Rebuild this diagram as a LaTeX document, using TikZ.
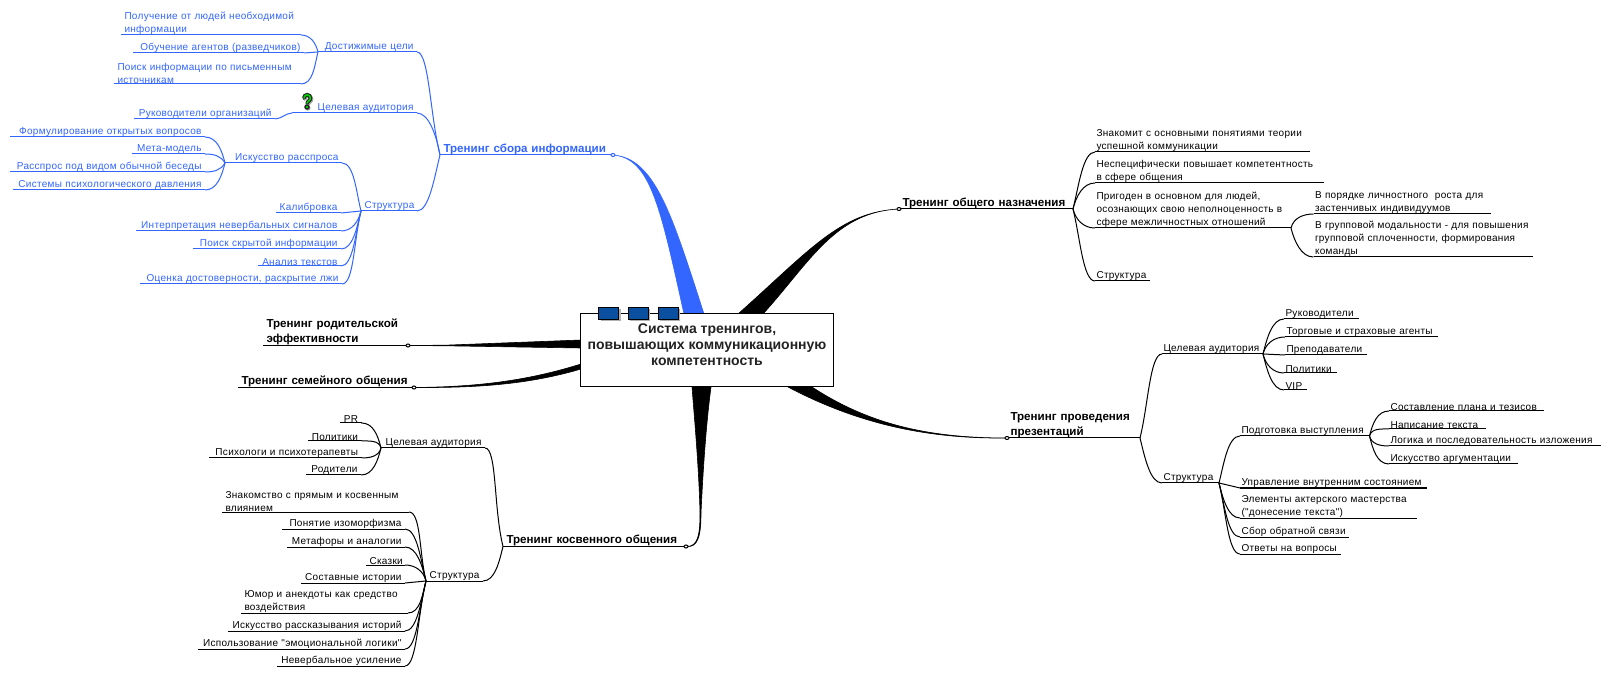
\documentclass[tikz,border=0pt]{standalone}
\usepackage{fontspec}
\usetikzlibrary{shadows,shapes.geometric}
\newfontfamily\leaffam[LetterSpace=3]{Liberation Sans}
\newfontfamily\mainfam{Liberation Sans}
\definecolor{tblue}{HTML}{3366FF}
\definecolor{tabblue}{HTML}{0B50A0}
\definecolor{rootink}{HTML}{222222}
\definecolor{qgreen}{HTML}{00CC00}
\tikzset{
  tw/.style={text width={#1*0.5pt-2*\pgfkeysvalueof{/pgf/inner xsep}}},
  topic/.style={anchor=south west, inner ysep=0pt, font=\leaffam\fontsize{5}{6.5}\selectfont,
    append after command={(\tikzlastnode.south west) edge (\tikzlastnode.south east)}},
  ltopic/.style={topic, inner xsep=1.5pt, align=right},
  ltext/.style={topic, inner xsep=1.5pt, align=left},
  rtopic/.style={topic, inner xsep=0.5pt, align=left},
  maintopic/.style={topic, inner xsep=1.5pt, align=left, font=\mainfam\bfseries\fontsize{5.8}{7.5}\selectfont},
  knob/.style={ellipse, draw, fill=white, inner sep=0pt, minimum width=2pt, minimum height=1.5pt},
  rootbox/.style={draw, fill=white, inner sep=0pt, minimum width=126.75pt, minimum height=36.5pt,
    align=center, text=rootink, font=\mainfam\bfseries\fontsize{7}{8}\selectfont},
  tabbox/.style={draw, fill=tabblue, inner sep=0pt, minimum width=10pt, minimum height=6pt,
    drop shadow={shadow xshift=1pt, shadow yshift=-1pt, fill=black!30, opacity=1}},
  wedge/.style={line width=0.3pt},
  lup/.style={out=0, in=104, out max distance=6pt},
  ldn/.style={out=0, in=256, out max distance=6pt},
  rup/.style={out=180, in=76, out max distance=6pt},
  rdn/.style={out=180, in=-76, out max distance=6pt},
  sbend/.style={out=0, in=180, looseness=0.8}
}
\begin{document}
\begin{tikzpicture}[x=0.5pt, y=-0.5pt, line width=0.5pt]
    \path[fill=white, use as bounding box] (0,0) rectangle (1608,679);

    % Information branch
    \begin{scope}[tblue]
    \node[maintopic, tw=172] (info) at (440,155) {Тренинг сбора информации};
    \node[ltopic, tw=98] (goals) at (318,52) {Достижимые цели};
    \node[ltopic, tw=124] (audience) at (292,113) {Целевая аудитория};
    \node[ltopic, tw=55] (struct) at (361,211) {Структура};
    \draw (goals.south east) to[lup] (info.south west);
    \draw (audience.south east) to[out=0, in=100, out max distance=6pt] (info.south west);
    \draw (struct.south east) to[ldn] (info.south west);

    \node[ltext, tw=179] (goal1) at (121,35) {Получение от людей необходимой\\информации};
    \node[ltopic, tw=170] (goal2) at (133,53) {Обучение агентов (разведчиков)};
    \node[ltext, tw=186] (goal3) at (114,84) {Поиск информации по письменным\\источникам};
    \draw (goal1.south east) to[lup] (goals.south west);
    \draw (goal2.south east) -- (goals.south west);
    \draw (goal3.south east) to[ldn] (goals.south west);

    \node[ltopic, tw=140] (aud1) at (134,119) {Руководители организаций};
    \draw (aud1.south east) to[sbend] (audience.south west);

    \node[ltopic, tw=116] (ask) at (225,163) {Искусство расспроса};
    \draw (ask.south east) to[lup] (struct.south west);
    \node[ltopic, tw=194] (ask1) at (10,137) {Формулирование открытых вопросов};
    \node[ltopic, tw=72] (ask2) at (132,154) {Мета-модель};
    \node[ltopic, tw=194] (ask3) at (10,172) {Расспрос под видом обычной беседы};
    \node[ltopic, tw=191] (ask4) at (13,190) {Системы психологического давления};
    \draw (ask1.south east) to[lup] (ask.south west);
    \draw (ask2.south east) to[out=0, in=120, out max distance=6pt] (ask.south west);
    \draw (ask3.south east) to[out=0, in=240, out max distance=6pt] (ask.south west);
    \draw (ask4.south east) to[ldn] (ask.south west);

    \node[ltopic, tw=64] (str1) at (276,213) {Калибровка};
    \node[ltopic, tw=204] (str2) at (136,231) {Интерпретация невербальных сигналов};
    \node[ltopic, tw=147] (str3) at (193,249) {Поиск скрытой информации};
    \node[ltopic, tw=82] (str4) at (258,266) {Анализ текстов};
    \node[ltopic, tw=201] (str5) at (140,284) {Оценка достоверности, раскрытие лжи};
    \draw (str1.south east) -- (struct.south west);
    \draw (str2.south east) to[ldn] (struct.south west);
    \draw (str3.south east) to[ldn] (struct.south west);
    \draw (str4.south east) to[ldn] (struct.south west);
    \draw (str5.south east) to[ldn] (struct.south west);

    % Tapered trunk to the central box
    \coordinate (infoa) at (684,314);
    \coordinate (infob) at (704,314);
    \filldraw[wedge] (info.south east) .. controls (650,158) and (660,205) .. (infoa)
        -- (infob) .. controls (672,215) and (655,158) .. (info.south east);
    \node[knob] (infok) at (info.south east) {};
    \end{scope}

    % Question mark next to the audience topic
    \begin{scope}[shift={(307,101)}, line cap=round]
    \draw[black!35, line width=1.9pt] (-2,-2) arc (180:390:3.2) -- (1,3);
    \fill[black!35] (1,7) circle (2.6);
    \draw[black!85, line width=1.9pt] (-3,-3) arc (180:390:3.2) -- (0,2);
    \draw[qgreen, line width=0.8pt] (-3,-3) arc (180:390:3.2) -- (0,2);
    \fill[black!85] (0,6) circle (2.8);
    \fill[qgreen] (0,6) circle (1.4);
    \end{scope}

    % Two short branches on the left
    \node[maintopic, tw=144] (parent) at (263,345.5) {Тренинг родительской\\эффективности};
    \node[maintopic, tw=175] (family) at (238,387.5) {Тренинг семейного общения};
    \coordinate (parenta) at (581,340);
    \coordinate (parentb) at (581,348);
    \coordinate (familya) at (581,364);
    \coordinate (familyb) at (581,369);
    \filldraw[wedge] (parent.south east) -- (445,345.2) -- (parenta) -- (parentb) -- (445,345.8) -- cycle;
    \filldraw[wedge] (family.south east) .. controls (480,387) and (530,380) .. (familya)
        -- (familyb) .. controls (530,384) and (480,388) .. (family.south east);
    \node[knob] (parentk) at (parent.south east) {};
    \node[knob] (familyk) at (family.south east) {};

    % Indirect communication branch
    \node[maintopic, tw=182] (indirect) at (503,546.5) {Тренинг косвенного общения};
    \node[ltopic, tw=103] (iaud) at (381,448) {Целевая аудитория};
    \node[ltopic, tw=56] (istr) at (426,581) {Структура};
    \draw (iaud.south east) to[lup] (indirect.south west);
    \draw (istr.south east) to[ldn] (indirect.south west);

    \node[ltopic, tw=20.5] (iaud1) at (340,423) {PR};
    \node[ltopic, tw=53] (iaud2) at (307.5,441) {Политики};
    \node[ltopic, tw=151.5] (iaud3) at (209,458) {Психологи и психотерапевты};
    \node[ltopic, tw=54] (iaud4) at (306,475) {Родители};
    \draw (iaud1.south east) to[lup] (iaud.south west);
    \draw (iaud2.south east) to[lup] (iaud.south west);
    \draw (iaud3.south east) to[ldn] (iaud.south west);
    \draw (iaud4.south east) to[ldn] (iaud.south west);

    \node[ltext, tw=186] (istr1) at (222,512) {Знакомство с прямым и косвенным\\влиянием};
    \node[ltopic, tw=122] (istr2) at (282,529) {Понятие изоморфизма};
    \node[ltopic, tw=117] (istr3) at (287,547) {Метафоры и аналогии};
    \node[ltopic, tw=38] (istr4) at (366,565) {Сказки};
    \node[ltopic, tw=103] (istr5) at (301,583) {Составные истории};
    \node[ltext, tw=166] (istr6) at (241,613) {Юмор и анекдоты как средство\\воздействия};
    \node[ltopic, tw=176.5] (istr7) at (227.5,631) {Искусство рассказывания историй};
    \node[ltopic, tw=206] (istr8) at (198,649) {Использование "эмоциональной логики"};
    \node[ltopic, tw=127] (istr9) at (277,666) {Невербальное усиление};
    \draw (istr1.south east) to[lup] (istr.south west);
    \draw (istr2.south east) to[lup] (istr.south west);
    \draw (istr3.south east) to[lup] (istr.south west);
    \draw (istr4.south east) to[lup] (istr.south west);
    \draw (istr5.south east) -- (istr.south west);
    \draw (istr6.south east) to[ldn] (istr.south west);
    \draw (istr7.south east) to[ldn] (istr.south west);
    \draw (istr8.south east) to[ldn] (istr.south west);
    \draw (istr9.south east) to[ldn] (istr.south west);

    \coordinate (inda) at (692,387);
    \coordinate (indb) at (711,387);
    \filldraw[wedge] (indirect.south east) .. controls (698,547) and (700,535) .. (700,513)
        .. controls (699,470) and (695,425) .. (inda) -- (indb)
        .. controls (706,425) and (703,470) .. (701,513)
        .. controls (701,536) and (698,548) .. (indirect.south east);
    \node[knob] (indirectk) at (indirect.south east) {};

    % General purpose branch
    \node[maintopic, tw=173] (general) at (899,209) {Тренинг общего назначения};
    \node[rtopic, tw=214] (gen1) at (1095,152) {Знакомит с основными понятиями теории\\успешной коммуникации};
    \node[rtopic, tw=228] (gen2) at (1095,183) {Неспецифически повышает компетентность\\в сфере общения};
    \node[rtopic, tw=195] (gen3) at (1095,228) {Пригоден в основном для людей,\\осознающих свою неполноценность в\\сфере межличностных отношений};
    \node[rtopic, tw=53.5] (gen4) at (1095,281) {Структура};
    \node[rtopic, tw=176.5] (gen31) at (1313.5,214) {В порядке личностного\ \ роста для\\застенчивых индивидуумов};
    \node[rtopic, tw=218.5] (gen32) at (1313.5,257) {В групповой модальности - для повышения\\групповой сплоченности, формирования\\команды};
    \draw (gen1.south west) to[rup] (general.south east);
    \draw (gen2.south west) to[rup] (general.south east);
    \draw (gen3.south west) to[rdn] (general.south east);
    \draw (gen4.south west) to[rdn] (general.south east);
    \draw (gen31.south west) to[rup] (gen3.south east);
    \draw (gen32.south west) to[rdn] (gen3.south east);

    \coordinate (gena) at (738,314);
    \coordinate (genb) at (763,314);
    \filldraw[wedge] (general.south west) .. controls (840,212) and (810,250) .. (gena)
        -- (genb) .. controls (810,262) and (835,212) .. (general.south west);
    \node[knob] (generalk) at (general.south west) {};

    % Presentation branch
    \node[maintopic, tw=132] (present) at (1007,438) {Тренинг проведения\\презентаций};
    \node[rtopic, tw=100] (paud) at (1162,354) {Целевая аудитория};
    \node[rtopic, tw=56] (pstr) at (1162,483) {Структура};
    \draw (paud.south west) to[rup] (present.south east);
    \draw (pstr.south west) to[rdn] (present.south east);

    \node[rtopic, tw=74] (paud1) at (1284,319) {Руководители};
    \node[rtopic, tw=151.5] (paud2) at (1285,337) {Торговые и страховые агенты};
    \node[rtopic, tw=81] (paud3) at (1285,355) {Преподаватели};
    \node[rtopic, tw=52] (paud4) at (1284,373) {Политики};
    \node[rtopic, tw=22] (paud5) at (1284,390) {VIP};
    \draw (paud1.south west) to[rup] (paud.south east);
    \draw (paud2.south west) to[rup] (paud.south east);
    \draw (paud3.south west) -- (paud.south east);
    \draw (paud4.south west) to[rdn] (paud.south east);
    \draw (paud5.south west) to[rdn] (paud.south east);

    \node[rtopic, tw=128.5] (prep) at (1240,436) {Подготовка выступления};
    \node[rtopic, tw=186] (pstr2) at (1240,488) {Управление внутренним состоянием};
    \node[rtopic, tw=176] (pstr3) at (1240,518) {Элементы актерского мастерства\\("донесение текста")};
    \node[rtopic, tw=108.4] (pstr4) at (1240,537) {Сбор обратной связи};
    \node[rtopic, tw=100.4] (pstr5) at (1240,554) {Ответы на вопросы};
    \draw (prep.south west) to[rup] (pstr.south east);
    \draw (pstr2.south west) -- (pstr.south east);
    \draw (pstr3.south west) to[rdn] (pstr.south east);
    \draw (pstr4.south west) to[rdn] (pstr.south east);
    \draw (pstr5.south west) to[rdn] (pstr.south east);

    \node[rtopic, tw=153.7] (prep1) at (1389,411) {Составление плана и тезисов};
    \node[rtopic, tw=96] (prep2) at (1389,429) {Написание текста};
    \node[rtopic, tw=210.5] (prep3) at (1389,446) {Логика и последовательность изложения};
    \node[rtopic, tw=128.4] (prep4) at (1389,464) {Искусство аргументации};
    \draw (prep1.south west) to[rup] (prep.south east);
    \draw (prep2.south west) to[rup] (prep.south east);
    \draw (prep3.south west) to[rdn] (prep.south east);
    \draw (prep4.south west) to[rdn] (prep.south east);

    \coordinate (presa) at (812,387);
    \coordinate (presb) at (788,387);
    \filldraw[wedge] (present.south west) .. controls (930,438) and (870,425) .. (presa)
        -- (presb) .. controls (860,425) and (930,439) .. (present.south west);
    \node[knob] (presentk) at (present.south west) {};

    % Central box and its tabs
    \node[rootbox] (root) at (707,350.5) {Система тренингов,\\повышающих коммуникационную\\компетентность\\[-2pt]\mbox{}};
    \node[tabbox] (tab1) at (608.5,313.5) {};
    \node[tabbox] (tab2) at (638,313.5) {};
    \node[tabbox] (tab3) at (668,313.5) {};
\end{tikzpicture}
\end{document}
